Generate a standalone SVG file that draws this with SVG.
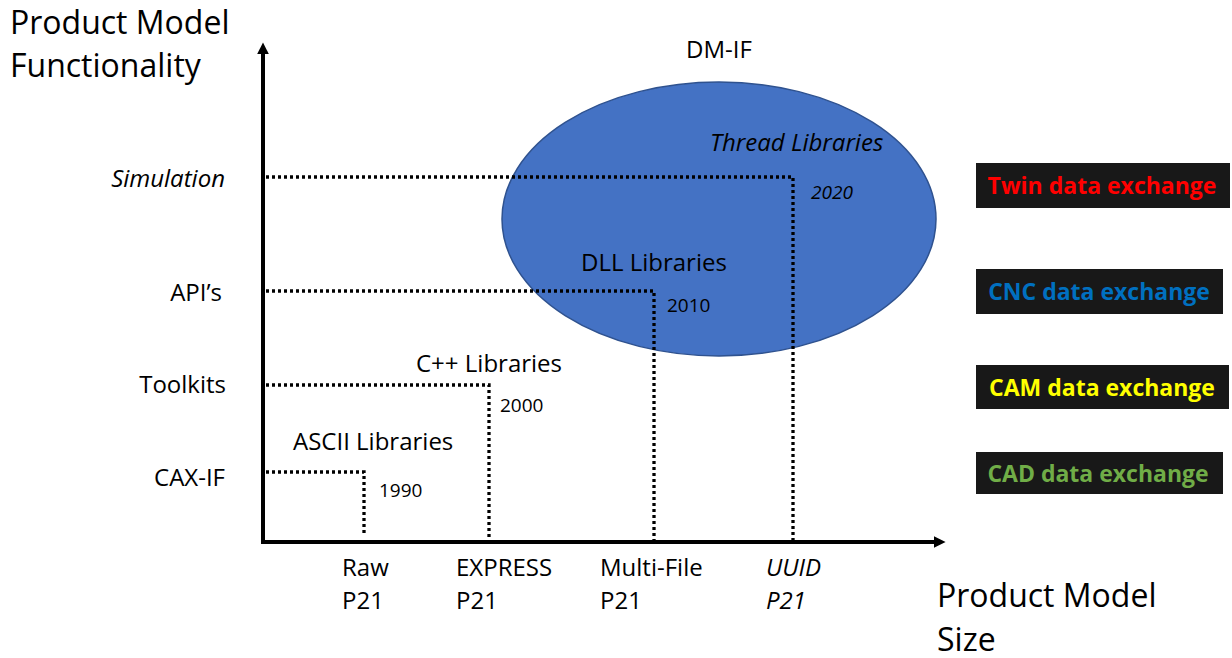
<svg xmlns="http://www.w3.org/2000/svg" width="1232" height="658" viewBox="0 0 1232 658">
<style>
  text { font-family: "Open Sans", "Liberation Sans", sans-serif; fill: #000; }
  .big { font-size: 32px; }
  .lab { font-size: 24px; }
  .yr { font-size: 19px; }
  .it { font-style: italic; }
  .end { text-anchor: end; }
  .mid { text-anchor: middle; }
  .dot { fill: none; stroke: #000; stroke-width: 3.3; stroke-dasharray: 3 3; }
  .axis { fill: none; stroke: #000; stroke-width: 4; }
  .box { fill: #181818; }
  .bt { font-size: 23px; font-weight: bold; text-anchor: middle; }
</style>
<defs>
  <marker id="ah" viewBox="0 0 10 10" refX="2" refY="5" markerWidth="3" markerHeight="3" orient="auto" markerUnits="strokeWidth">
    <path d="M0,0 L10,5 L0,10 z" fill="#000"/>
  </marker>
</defs>

<g id="ellipse-dmif">
  <ellipse cx="719" cy="219" rx="217" ry="137" fill="#4472C4" stroke="#2F528F" stroke-width="1.5"/>
  <text class="lab mid" x="719" y="58">DM-IF</text>
</g>

<g id="connectors">
  <path class="axis" d="M263,544 L263,52" marker-end="url(#ah)"/>
  <path class="axis" d="M261,542 L936,542" marker-end="url(#ah)"/>
  <path class="dot" d="M266,472 L364,472 L364,534"/>
  <path class="dot" d="M266,385 L489,385 L489,540"/>
  <path class="dot" d="M266,291 L654,291 L654,540"/>
  <path class="dot" d="M266,177 L793,177 L793,540"/>
</g>

<g id="axis-titles">
  <text class="big" x="10" y="34">Product Model</text>
  <text class="big" x="10" y="77">Functionality</text>
  <text class="big" x="937" y="607">Product Model</text>
  <text class="big" x="937" y="651">Size</text>
</g>

<g id="y-labels">
  <text class="lab end it" x="225" y="187">Simulation</text>
  <text class="lab end" x="222" y="301">API’s</text>
  <text class="lab end" x="226" y="393">Toolkits</text>
  <text class="lab end" x="225" y="486">CAX-IF</text>
</g>

<g id="x-labels">
  <text class="lab" x="342" y="576">Raw</text>
  <text class="lab" x="342" y="609">P21</text>
  <text class="lab" x="456" y="576">EXPRESS</text>
  <text class="lab" x="456" y="609">P21</text>
  <text class="lab" x="600" y="576">Multi-File</text>
  <text class="lab" x="600" y="609">P21</text>
  <text class="lab it" x="766" y="576">UUID</text>
  <text class="lab it" x="766" y="609">P21</text>
</g>

<g id="node-ascii">
  <text class="lab" x="293" y="450">ASCII Libraries</text>
  <text class="yr" x="379" y="497">1990</text>
</g>
<g id="node-cpp">
  <text class="lab" x="416" y="372">C++ Libraries</text>
  <text class="yr" x="500" y="412">2000</text>
</g>
<g id="node-dll">
  <text class="lab" x="581" y="271">DLL Libraries</text>
  <text class="yr" x="667" y="312">2010</text>
</g>
<g id="node-thread">
  <text class="lab it" x="710" y="151">Thread Libraries</text>
  <text class="yr it" x="811" y="199">2020</text>
</g>

<g id="box-twin">
  <rect class="box" x="976" y="163" width="254" height="45"/>
  <text class="bt" x="1102" y="194" style="fill:#FF0000">Twin data exchange</text>
</g>
<g id="box-cnc">
  <rect class="box" x="976" y="269" width="247" height="45"/>
  <text class="bt" x="1099" y="300" style="fill:#0070C0">CNC data exchange</text>
</g>
<g id="box-cam">
  <rect class="box" x="976" y="365" width="253" height="44"/>
  <text class="bt" x="1102" y="396" style="fill:#FFFF00">CAM data exchange</text>
</g>
<g id="box-cad">
  <rect class="box" x="976" y="452" width="247" height="42"/>
  <text class="bt" x="1098" y="482" style="fill:#70AD47">CAD data exchange</text>
</g>
</svg>
